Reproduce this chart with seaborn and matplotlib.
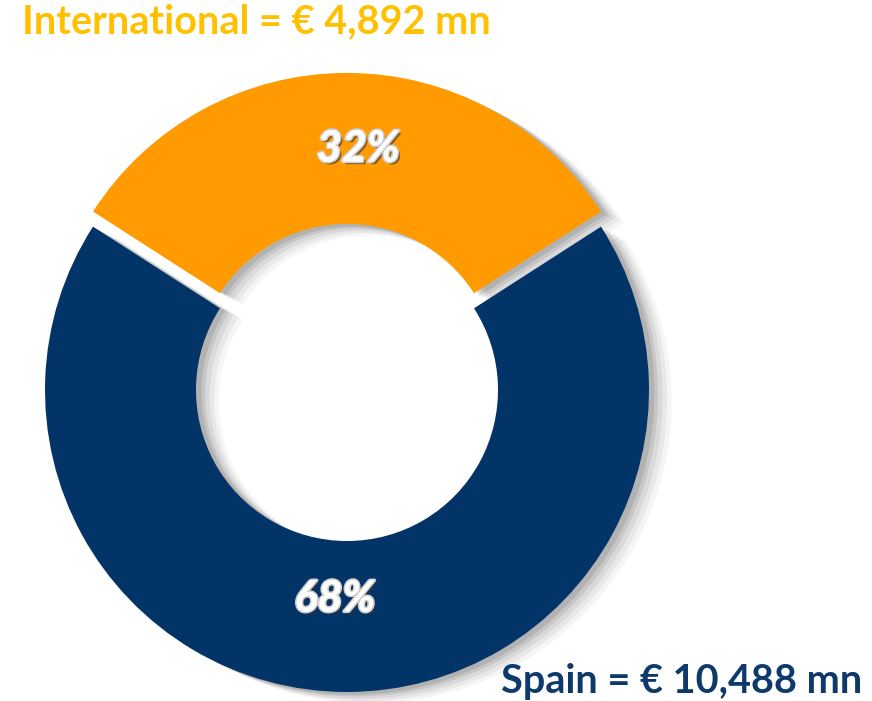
import matplotlib
matplotlib.use("Agg")
import matplotlib.pyplot as plt
import matplotlib.patheffects as pe
import seaborn as sns

# datos del grafico
segmentos = ["Spain", "International"]
valores = [10488, 4892]
porcentajes = ["68%", "32%"]
colores = ["#033468", "#FF9A00"]
titulo_int = "International = € 4,892 mn"
titulo_esp = "Spain = € 10,488 mn"

sns.set_theme(style="white")
plt.rcParams['font.family'] = ['Lato', 'DejaVu Sans']

fig = plt.figure(figsize=(8.72, 7.01), dpi=100)
ax = fig.add_axes([0, 0, 1, 1])

# International centrado arriba
frac_int = valores[1] / sum(valores)
angulo_ini = 90 + 360 * frac_int / 2
explode = [0, 0.05]

# sombra difusa hacia la derecha
for off, a in [(0.075, 0.05), (0.06, 0.07), (0.045, 0.09), (0.03, 0.12), (0.018, 0.15)]:
    ax.pie(valores, startangle=angulo_ini, counterclock=True, explode=explode,
           colors=["#444444", "#444444"], center=(off, -off * 0.5),
           wedgeprops=dict(width=0.5, alpha=a, linewidth=0))

wedges, _ = ax.pie(valores, startangle=angulo_ini, counterclock=True, explode=explode,
                   colors=colores, wedgeprops=dict(width=0.5, linewidth=0))

efecto = [pe.withSimplePatchShadow(offset=(2, -2), shadow_rgbFace="#333333", alpha=0.6),
          pe.withStroke(linewidth=2.5, foreground="#cfcfcf"), pe.Normal()]
ax.text(-0.04, -0.69, porcentajes[0], color="white", fontsize=31, fontweight="bold",
        fontstyle="italic", ha="center", va="center", path_effects=efecto)
ax.text(0.037, 0.80, porcentajes[1], color="white", fontsize=31, fontweight="bold",
        fontstyle="italic", ha="center", va="center", path_effects=efecto)

R = 302.0
ax.set_xlim(-347 / R, (872 - 347) / R)
ax.set_ylim(-(701 - 390) / R, 390 / R)
ax.set_aspect("auto")
ax.axis("off")

fig.text(22 / 872, 1 - 22 / 701, titulo_int, color="#FFC000", fontsize=28.5,
         fontweight="bold", ha="left", va="center")
fig.text(862 / 872, 1 - 681 / 701, titulo_esp, color="#0D3A6B", fontsize=28.5,
         fontweight="bold", ha="right", va="center")

fig.savefig("out.png", dpi=100)
